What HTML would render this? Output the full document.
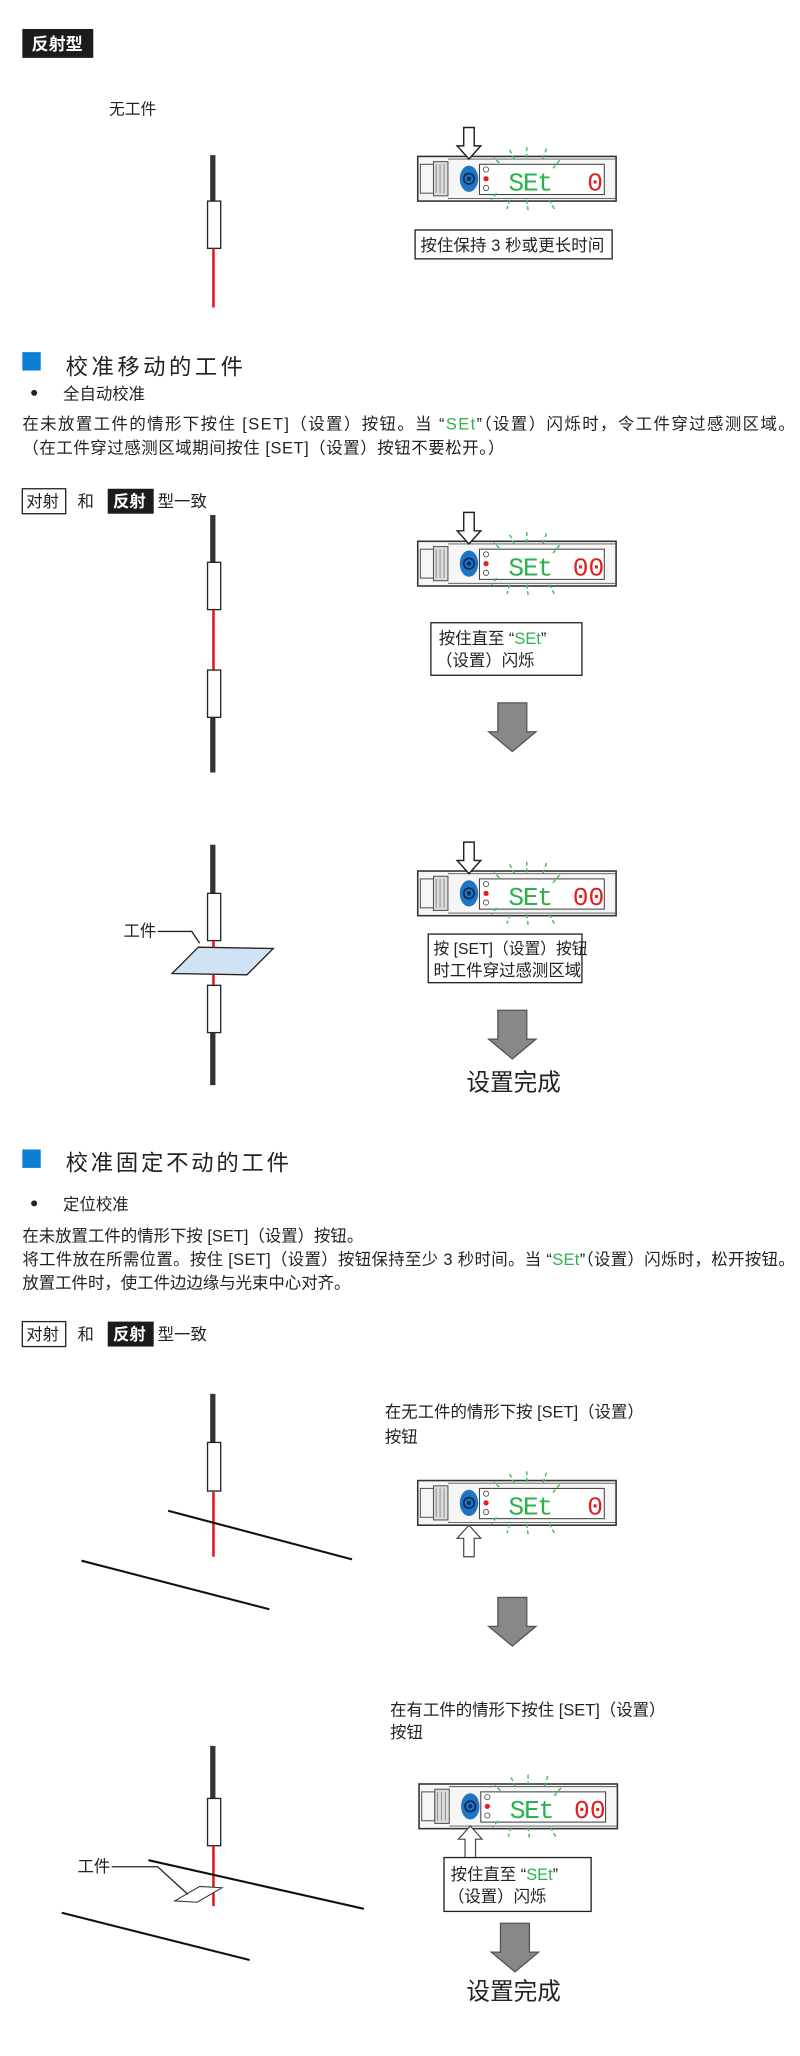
<!DOCTYPE html>
<html><head><meta charset="utf-8"><style>
html,body{margin:0;padding:0;background:#fff;}
svg{display:block;}
text{font-family:"Liberation Sans","Noto Sans CJK SC",sans-serif;fill:#222;}
</style></head><body>
<svg width="800" height="2056" viewBox="0 0 609 1565" xmlns="http://www.w3.org/2000/svg">
<defs>
<g id="dev">
  <rect x="0" y="0" width="151" height="34" fill="#f6f6f6" stroke="#333" stroke-width="1.2"/>
  <rect x="2" y="6" width="10" height="22" fill="none" stroke="#555" stroke-width="0.8"/>
  <rect x="12" y="4" width="11" height="26" fill="#ddd" stroke="#555" stroke-width="0.8"/>
  <line x1="14" y1="6" x2="14" y2="28" stroke="#777" stroke-width="0.6"/>
  <line x1="17" y1="6" x2="17" y2="28" stroke="#777" stroke-width="0.6"/>
  <line x1="20" y1="6" x2="20" y2="28" stroke="#777" stroke-width="0.6"/>
  <line x1="23" y1="2" x2="151" y2="2" stroke="#555" stroke-width="0.7"/>
  <line x1="23" y1="32" x2="151" y2="32" stroke="#555" stroke-width="0.7"/>
  <ellipse cx="39" cy="17" rx="7" ry="10" fill="#1f74c4"/>
  <circle cx="39" cy="17" r="4" fill="none" stroke="#0a2c55" stroke-width="1.3"/>
  <circle cx="39" cy="17" r="1.6" fill="#0a2c55"/>
  <rect x="47" y="6" width="95" height="23" fill="#fff" stroke="#444" stroke-width="0.8"/>
  <circle cx="52" cy="10" r="2" fill="none" stroke="#444" stroke-width="0.6"/>
  <circle cx="52" cy="17" r="2" fill="#e02020"/>
  <circle cx="52" cy="24" r="2" fill="none" stroke="#444" stroke-width="0.6"/>
  <g stroke="#3cbf5a" stroke-width="1.1" stroke-dasharray="3 2">
    <line x1="70" y1="-5" x2="74" y2="3"/><line x1="83" y1="-7" x2="83" y2="2"/>
    <line x1="98" y1="-6" x2="95" y2="3"/><line x1="108" y1="3" x2="103" y2="9"/>
    <line x1="62" y1="5" x2="58" y2="1"/><line x1="60" y1="28" x2="56" y2="33"/>
    <line x1="70" y1="33" x2="68" y2="40"/><line x1="83" y1="33" x2="84" y2="41"/>
    <line x1="100" y1="33" x2="104" y2="40"/>
  </g>
</g>
<g id="darr">
  <polygon points="-4,-24 4,-24 4,-10 9,-10 0,0 -9,-10 -4,-10" fill="#fff" stroke="#222" stroke-width="1.1"/>
</g>
<g id="uarr">
  <polygon points="-4,24 4,24 4,10 9,10 0,0 -9,10 -4,10" fill="#fff" stroke="#444" stroke-width="0.9"/>
</g>
<g id="big">
  <polygon points="-11,0 11,0 11,22 18,22 0,37 -18,22 -11,22" fill="#888" stroke="#555" stroke-width="1"/>
</g>
</defs>

<rect x="17" y="22" width="54" height="22" fill="#1c1c1c"/>
<text x="24" y="38" font-size="13" font-weight="bold" style="fill:#fff">反射型</text>
<text x="83" y="87" font-size="12">无工件</text>

<rect x="160" y="118" width="4" height="35" fill="#333"/>
<rect x="158" y="153" width="10" height="36" fill="#fff" stroke="#222" stroke-width="1"/>
<rect x="161.5" y="189" width="2" height="45" fill="#e02020"/>

<use href="#dev" x="318" y="119"/>
<use href="#darr" x="357" y="121"/>
<text x="387" y="145" font-size="20" style="fill:#2bb24c;font-family:'Liberation Mono',monospace" textLength="34">SEt</text>
<text x="447" y="145" font-size="20" style="fill:#e02020;font-family:'Liberation Mono',monospace">0</text>
<rect x="316" y="175" width="150" height="22" fill="#fff" stroke="#222" stroke-width="1"/>
<text x="320" y="191" font-size="12.5" textLength="140">按住保持 3 秒或更长时间</text>

<rect x="17" y="268" width="14" height="14" fill="#0a7fd4"/>
<text x="50" y="285" font-size="17" textLength="135">校准移动的工件</text>
<circle cx="26" cy="299" r="2.3" fill="#222"/>
<text x="48" y="304" font-size="12.5">全自动校准</text>
<text x="17" y="327" font-size="12.5" textLength="588">在未放置工件的情形下按住 [SET]（设置）按钮。当 “<tspan style="fill:#2bb24c">SEt</tspan>”（设置）闪烁时，令工件穿过感测区域。</text>
<text x="17" y="345" font-size="12.5" textLength="367">（在工件穿过感测区域期间按住 [SET]（设置）按钮不要松开。）</text>

<rect x="17" y="372" width="33" height="19" fill="#fff" stroke="#222" stroke-width="1"/>
<text x="20" y="386" font-size="12.5">对射</text>
<text x="59" y="386" font-size="12.5">和</text>
<rect x="82" y="372" width="35" height="19" fill="#1c1c1c"/>
<text x="86" y="386" font-size="12.5" font-weight="bold" style="fill:#fff">反射</text>
<text x="120" y="386" font-size="12.5">型一致</text>

<rect x="160" y="392" width="4" height="36" fill="#333"/>
<rect x="158" y="428" width="10" height="36" fill="#fff" stroke="#222"/>
<rect x="161.5" y="464" width="2" height="46" fill="#e02020"/>
<rect x="158" y="510" width="10" height="36" fill="#fff" stroke="#222"/>
<rect x="160" y="546" width="4" height="42" fill="#333"/>

<use href="#dev" x="318" y="412"/>
<use href="#darr" x="357" y="414"/>
<text x="387" y="438" font-size="20" style="fill:#2bb24c;font-family:'Liberation Mono',monospace" textLength="34">SEt</text>
<text x="436" y="438" font-size="20" style="fill:#e02020;font-family:'Liberation Mono',monospace" textLength="24">00</text>
<rect x="328" y="474" width="115" height="40" fill="#fff" stroke="#222"/>
<text x="334" y="490" font-size="12.5">按住直至 “<tspan style="fill:#2bb24c">SEt</tspan>”</text>
<text x="332" y="507" font-size="12.5">（设置）闪烁</text>

<use href="#big" x="390" y="535"/>

<rect x="160" y="643" width="4" height="37" fill="#333"/>
<rect x="158" y="680" width="10" height="36" fill="#fff" stroke="#222"/>
<rect x="161.5" y="716" width="2" height="6" fill="#e02020"/>
<polygon points="131,741 151,721 208,722 188,742" fill="#cfe3f5" stroke="#222" stroke-width="1"/>
<rect x="161.5" y="742" width="2" height="8" fill="#e02020"/>
<rect x="158" y="750" width="10" height="36" fill="#fff" stroke="#222"/>
<rect x="160" y="786" width="4" height="40" fill="#333"/>
<text x="94" y="713" font-size="12.5">工件</text>
<polyline points="120,709 146,709 152,718" fill="none" stroke="#222" stroke-width="1"/>

<use href="#dev" x="318" y="663"/>
<use href="#darr" x="357" y="665"/>
<text x="387" y="689" font-size="20" style="fill:#2bb24c;font-family:'Liberation Mono',monospace" textLength="34">SEt</text>
<text x="436" y="689" font-size="20" style="fill:#e02020;font-family:'Liberation Mono',monospace" textLength="24">00</text>
<rect x="326" y="711" width="117" height="37" fill="#fff" stroke="#222"/>
<text x="330" y="726" font-size="12">按 [SET]（设置）按钮</text>
<text x="330" y="743" font-size="12.5">时工件穿过感测区域</text>

<use href="#big" x="390" y="769"/>
<text x="355" y="830" font-size="18">设置完成</text>

<rect x="17" y="875" width="14" height="14" fill="#0a7fd4"/>
<text x="50" y="891" font-size="17" textLength="170">校准固定不动的工件</text>
<circle cx="26" cy="916" r="2.3" fill="#222"/>
<text x="48" y="921" font-size="12.5">定位校准</text>
<text x="17" y="945" font-size="12.5">在未放置工件的情形下按 [SET]（设置）按钮。</text>
<text x="17" y="963" font-size="12.5" textLength="588">将工件放在所需位置。按住 [SET]（设置）按钮保持至少 3 秒时间。当 “<tspan style="fill:#2bb24c">SEt</tspan>”（设置）闪烁时，松开按钮。</text>
<text x="17" y="981" font-size="12.5">放置工件时，使工件边边缘与光束中心对齐。</text>

<rect x="17" y="1006" width="33" height="19" fill="#fff" stroke="#222" stroke-width="1"/>
<text x="20" y="1020" font-size="12.5">对射</text>
<text x="59" y="1020" font-size="12.5">和</text>
<rect x="82" y="1006" width="35" height="19" fill="#1c1c1c"/>
<text x="86" y="1020" font-size="12.5" font-weight="bold" style="fill:#fff">反射</text>
<text x="120" y="1020" font-size="12.5">型一致</text>

<rect x="160" y="1061" width="4" height="37" fill="#333"/>
<rect x="158" y="1098" width="10" height="37" fill="#fff" stroke="#222"/>
<rect x="161.5" y="1135" width="2" height="50" fill="#e02020"/>
<line x1="128" y1="1150" x2="268" y2="1187" stroke="#111" stroke-width="1.6"/>
<line x1="62" y1="1188" x2="205" y2="1225" stroke="#111" stroke-width="1.6"/>

<text x="293" y="1079" font-size="12.5">在无工件的情形下按 [SET]（设置）</text>
<text x="293" y="1098" font-size="12.5">按钮</text>
<use href="#dev" x="318" y="1127"/>
<use href="#uarr" x="357" y="1161"/>
<text x="387" y="1153" font-size="20" style="fill:#2bb24c;font-family:'Liberation Mono',monospace" textLength="34">SEt</text>
<text x="447" y="1153" font-size="20" style="fill:#e02020;font-family:'Liberation Mono',monospace">0</text>

<use href="#big" x="390" y="1216"/>

<text x="297" y="1306" font-size="12.5">在有工件的情形下按住 [SET]（设置）</text>
<text x="297" y="1323" font-size="12.5">按钮</text>
<rect x="160" y="1329" width="4" height="40" fill="#333"/>
<rect x="158" y="1369" width="10" height="36" fill="#fff" stroke="#222"/>
<rect x="161.5" y="1405" width="2" height="46" fill="#e02020"/>
<line x1="113" y1="1416" x2="277" y2="1453" stroke="#111" stroke-width="1.6"/>
<line x1="47" y1="1456" x2="190" y2="1492" stroke="#111" stroke-width="1.6"/>
<polygon points="133,1447 152,1436 169,1437 150,1448" fill="#fff" stroke="#333" stroke-width="0.8"/>
<text x="59" y="1425" font-size="12.5">工件</text>
<polyline points="85,1421 120,1421 143,1442" fill="none" stroke="#222" stroke-width="1"/>

<use href="#dev" x="319" y="1358"/>
<use href="#uarr" x="358" y="1390"/>
<text x="388" y="1384" font-size="20" style="fill:#2bb24c;font-family:'Liberation Mono',monospace" textLength="34">SEt</text>
<text x="437" y="1384" font-size="20" style="fill:#e02020;font-family:'Liberation Mono',monospace" textLength="24">00</text>
<rect x="338" y="1414" width="112" height="41" fill="#fff" stroke="#222"/>
<text x="343" y="1431" font-size="12.5">按住直至 “<tspan style="fill:#2bb24c">SEt</tspan>”</text>
<text x="341" y="1448" font-size="12.5">（设置）闪烁</text>

<use href="#big" x="392" y="1464"/>
<text x="355" y="1522" font-size="18">设置完成</text>
</svg>
</body></html>
